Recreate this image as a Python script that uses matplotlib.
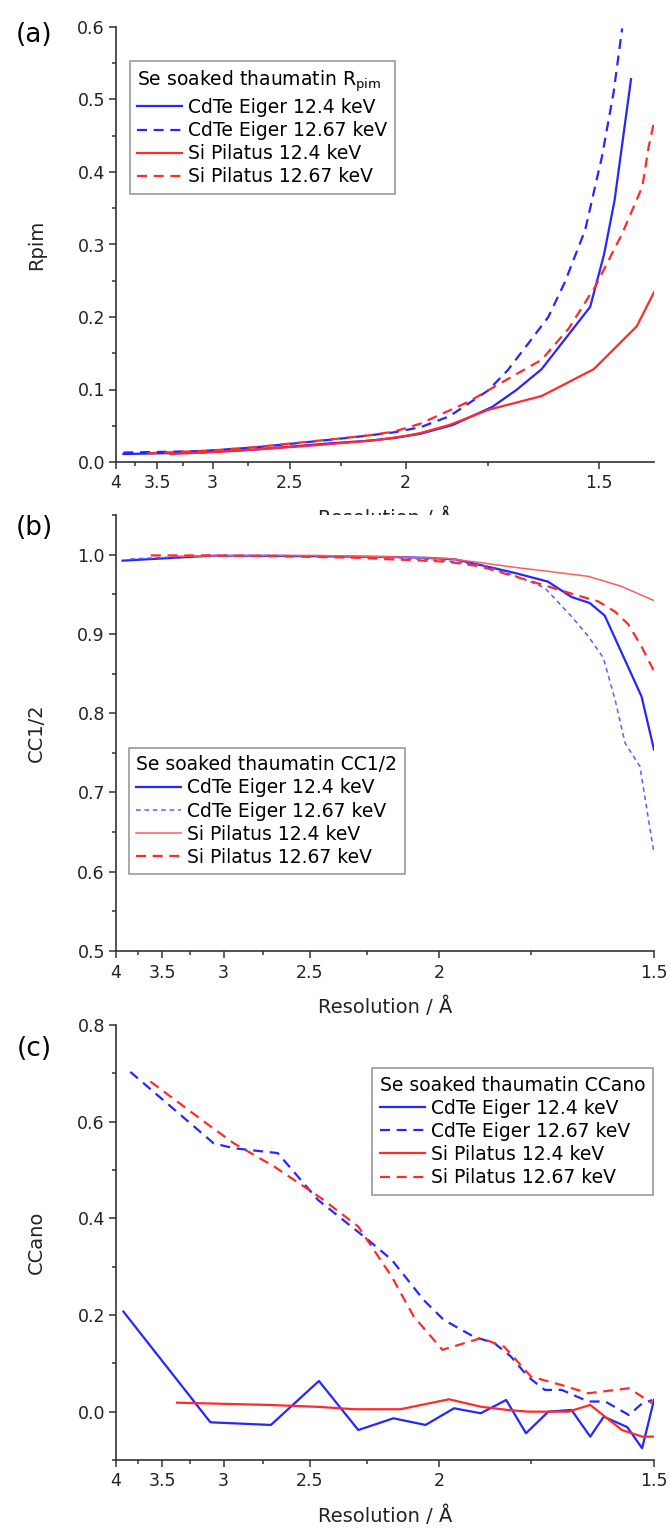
import numpy as np
import matplotlib
matplotlib.use('Agg')
import matplotlib.pyplot as plt

plt.rcParams['font.family'] = ['DejaVu Sans']
plt.rcParams['mathtext.fontset'] = 'dejavusans'

# resolution ticks (Angstrom), axis is linear in 1/d
ticks = [4, 3.5, 3, 2.5, 2, 1.5]
tick_labels = ['4', '3.5', '3', '2.5', '2', '1.5']
minor_ticks = [3.75, 3.25, 2.75, 2.25, 1.75]

labels = ['CdTe Eiger 12.4 keV', 'CdTe Eiger 12.67 keV',
          'Si Pilatus 12.4 keV', 'Si Pilatus 12.67 keV']

# (a) Rpim
rpim_eiger_124_d = [3.90, 3.10, 2.71, 2.46, 2.29, 2.15, 2.04, 1.95, 1.85, 1.74, 1.68, 1.62, 1.517, 1.49, 1.47, 1.44]
rpim_eiger_124 = [0.011, 0.013, 0.017, 0.022, 0.026, 0.029, 0.033, 0.039, 0.051, 0.076, 0.099, 0.128, 0.214, 0.286, 0.361, 0.528]
rpim_eiger_1267_d = [3.90, 3.10, 2.71, 2.46, 2.29, 2.15, 2.04, 1.95, 1.86, 1.75, 1.70, 1.65, 1.605, 1.569, 1.527, 1.494, 1.472, 1.456]
rpim_eiger_1267 = [0.013, 0.015, 0.020, 0.026, 0.031, 0.036, 0.041, 0.048, 0.063, 0.099, 0.127, 0.164, 0.200, 0.248, 0.320, 0.421, 0.509, 0.598]
rpim_pilatus_124_d = [3.37, 2.95, 2.65, 2.42, 2.25, 2.11, 2.00, 1.95, 1.86, 1.75, 1.62, 1.51, 1.43, 1.40]
rpim_pilatus_124 = [0.011, 0.014, 0.018, 0.022, 0.026, 0.030, 0.036, 0.040, 0.051, 0.072, 0.091, 0.128, 0.187, 0.234]
rpim_pilatus_1267_d = [3.61, 3.00, 2.68, 2.44, 2.27, 2.13, 2.04, 1.95, 1.805, 1.683, 1.62, 1.561, 1.507, 1.456, 1.42, 1.409, 1.40]
rpim_pilatus_1267 = [0.012, 0.016, 0.021, 0.027, 0.032, 0.037, 0.042, 0.053, 0.083, 0.120, 0.141, 0.184, 0.242, 0.315, 0.380, 0.435, 0.469]

# (b) CC1/2
cc_eiger_124_d = [3.92, 3.10, 2.71, 2.46, 2.29, 2.15, 2.04, 1.95, 1.88, 1.79, 1.711, 1.659, 1.621, 1.591, 1.522, 1.50]
cc_eiger_124 = [0.9924, 0.9985, 0.9985, 0.998, 0.9975, 0.997, 0.996, 0.994, 0.987, 0.977, 0.966, 0.9466, 0.939, 0.923, 0.821, 0.754]
cc_eiger_1267_d = [3.83, 3.10, 2.71, 2.46, 2.29, 2.15, 2.04, 1.95, 1.877, 1.773, 1.718, 1.659, 1.624, 1.594, 1.571, 1.552, 1.525, 1.50]
cc_eiger_1267 = [0.9945, 0.999, 0.999, 0.998, 0.997, 0.996, 0.994, 0.991, 0.987, 0.9705, 0.958, 0.922, 0.897, 0.870, 0.817, 0.762, 0.733, 0.623]
cc_pilatus_124_d = [3.36, 2.72, 2.46, 2.30, 2.13, 1.97, 1.88, 1.79, 1.711, 1.624, 1.559, 1.50]
cc_pilatus_124 = [0.998, 0.999, 0.999, 0.998, 0.997, 0.995, 0.990, 0.984, 0.979, 0.9726, 0.960, 0.942]
cc_pilatus_1267_d = [3.61, 3.09, 2.68, 2.445, 2.285, 2.157, 2.081, 1.972, 1.878, 1.79, 1.711, 1.652, 1.604, 1.571, 1.546, 1.522, 1.50]
cc_pilatus_1267 = [0.999, 0.999, 0.998, 0.997, 0.996, 0.994, 0.993, 0.991, 0.985, 0.9726, 0.960, 0.9495, 0.941, 0.928, 0.912, 0.884, 0.853]

# (c) CCano
ccano_eiger_124_d = [3.91, 3.095, 2.703, 2.456, 2.285, 2.151, 2.042, 1.954, 1.878, 1.811, 1.762, 1.710, 1.659, 1.620, 1.593, 1.548, 1.521, 1.50]
ccano_eiger_124 = [0.207, -0.022, -0.0275, 0.0635, -0.038, -0.0137, -0.0275, 0.007, -0.0033, 0.0242, -0.0447, 0.0, 0.0035, -0.0517, -0.0103, -0.032, -0.0757, 0.0242]
ccano_eiger_1267_d = [3.83, 3.07, 2.93, 2.665, 2.46, 2.245, 2.157, 2.048, 1.985, 1.897, 1.842, 1.799, 1.757, 1.718, 1.680, 1.624, 1.590, 1.545, 1.521, 1.503]
ccano_eiger_1267 = [0.703, 0.555, 0.545, 0.535, 0.438, 0.355, 0.314, 0.231, 0.190, 0.155, 0.142, 0.114, 0.072, 0.045, 0.045, 0.021, 0.021, -0.007, 0.017, 0.024]
ccano_pilatus_124_d = [3.364, 2.72, 2.46, 2.30, 2.127, 1.969, 1.878, 1.807, 1.757, 1.666, 1.62, 1.558, 1.521, 1.50]
ccano_pilatus_124 = [0.0186, 0.014, 0.010, 0.005, 0.005, 0.0256, 0.0103, 0.0035, 0.0, 0.0, 0.0139, -0.038, -0.0517, -0.0517]
ccano_pilatus_1267_d = [3.614, 3.093, 2.929, 2.684, 2.445, 2.285, 2.157, 2.081, 1.989, 1.878, 1.816, 1.75, 1.68, 1.624, 1.545, 1.503]
ccano_pilatus_1267 = [0.683, 0.590, 0.555, 0.507, 0.4415, 0.383, 0.279, 0.197, 0.128, 0.152, 0.1345, 0.0724, 0.055, 0.0381, 0.0484, 0.0174]

BLUE = '#2626ff'
RED = '#ff2a2a'
DASH = (0, (4.5, 3))


def neg_recip(d):
    # -1/d : increasing with d, so the axis reads 4 ... 1.5 once xlim is (4, dmin)
    d = np.asarray(d, dtype=float)
    out = np.full_like(d, -np.inf)
    np.divide(-1.0, d, out=out, where=d != 0)
    return out


def style_axis(ax, xmax_d, ylim, ymajor, yminor, ylabel):
    ax.set_xscale('function', functions=(neg_recip, neg_recip))
    ax.set_xticks(ticks)
    ax.set_xticklabels(tick_labels)
    ax.set_xticks(minor_ticks, minor=True)
    ax.set_xlim(4, xmax_d)
    ax.set_ylim(*ylim)
    ax.yaxis.set_major_locator(plt.MultipleLocator(ymajor))
    ax.yaxis.set_minor_locator(plt.MultipleLocator(yminor))
    ax.yaxis.set_major_formatter(plt.FormatStrFormatter('%.1f'))
    for s in ['top', 'right']:
        ax.spines[s].set_visible(False)
    for s in ['left', 'bottom']:
        ax.spines[s].set_linewidth(1.2)
        ax.spines[s].set_color('#333333')
    ax.tick_params(which='both', direction='out', width=1.1, color='#333333',
                   labelsize=12.5, labelcolor='#222222')
    ax.tick_params(which='major', length=5)
    ax.tick_params(which='minor', length=3)
    ax.tick_params(axis='x', pad=4)
    ax.tick_params(axis='y', pad=3)
    ax.set_xlabel('Resolution / Å', fontsize=14, color='#222222')
    ax.xaxis.set_label_coords(0.5, -0.105)
    ax.set_ylabel(ylabel, fontsize=14, color='#222222')
    ax.yaxis.set_label_coords(-0.13, 0.5)


def add_legend(ax, title, loc, anchor):
    leg = ax.legend(title=title, loc=loc, bbox_to_anchor=anchor, fontsize=13.5,
                    title_fontsize=13.5, alignment='left', fancybox=False,
                    edgecolor='#9a9a9a', framealpha=1, handlelength=2.4,
                    handletextpad=0.3, labelspacing=0.22, borderpad=0.4,
                    borderaxespad=0)
    leg.get_frame().set_linewidth(1.2)
    return leg


fig = plt.figure(figsize=(6.7, 15.28), dpi=100)
left, width = 116 / 670, 538 / 670
ax_a = fig.add_axes([left, 1 - 462 / 1528, width, 435 / 1528])
ax_b = fig.add_axes([left, 1 - 951 / 1528, width, 436 / 1528])
ax_c = fig.add_axes([left, 1 - 1460 / 1528, width, 435 / 1528])

# (a)
ax_a.plot(rpim_eiger_124_d, rpim_eiger_124, color=BLUE, lw=1.6, label=labels[0])
ax_a.plot(rpim_eiger_1267_d, rpim_eiger_1267, color=BLUE, lw=1.6, ls=DASH, label=labels[1])
ax_a.plot(rpim_pilatus_124_d, rpim_pilatus_124, color=RED, lw=1.6, label=labels[2])
ax_a.plot(rpim_pilatus_1267_d, rpim_pilatus_1267, color=RED, lw=1.6, ls=DASH, label=labels[3])
style_axis(ax_a, 1.4, (0, 0.6), 0.1, 0.05, 'Rpim')
add_legend(ax_a, r'Se soaked thaumatin R$_{\mathrm{pim}}$', 'upper left', (0.026, 0.922))

# (b)
ax_b.plot(cc_eiger_124_d, cc_eiger_124, color=BLUE, lw=1.6, label=labels[0])
ax_b.plot(cc_eiger_1267_d, cc_eiger_1267, color='#5c5cff', lw=1.1, ls=(0, (3, 2.5)), label=labels[1])
ax_b.plot(cc_pilatus_124_d, cc_pilatus_124, color='#ff5c5c', lw=1.1, label=labels[2])
ax_b.plot(cc_pilatus_1267_d, cc_pilatus_1267, color=RED, lw=1.6, ls=DASH, label=labels[3])
style_axis(ax_b, 1.5, (0.5, 1.05), 0.1, 0.05, 'CC1/2')
add_legend(ax_b, 'Se soaked thaumatin CC1/2', 'upper left', (0.024, 0.466))

# (c)
ax_c.plot(ccano_eiger_124_d, ccano_eiger_124, color=BLUE, lw=1.6, label=labels[0])
ax_c.plot(ccano_eiger_1267_d, ccano_eiger_1267, color=BLUE, lw=1.6, ls=DASH, label=labels[1])
ax_c.plot(ccano_pilatus_124_d, ccano_pilatus_124, color=RED, lw=1.6, label=labels[2])
ax_c.plot(ccano_pilatus_1267_d, ccano_pilatus_1267, color=RED, lw=1.6, ls=DASH, label=labels[3])
style_axis(ax_c, 1.5, (-0.1, 0.8), 0.2, 0.1, 'CCano')
add_legend(ax_c, 'Se soaked thaumatin CCano', 'upper right', (0.998, 0.901))

for txt, y in [('(a)', 35), ('(b)', 528), ('(c)', 1049)]:
    fig.text(34 / 670, 1 - y / 1528, txt, fontsize=19, ha='center', va='center')

fig.savefig('out.png', dpi=100)
